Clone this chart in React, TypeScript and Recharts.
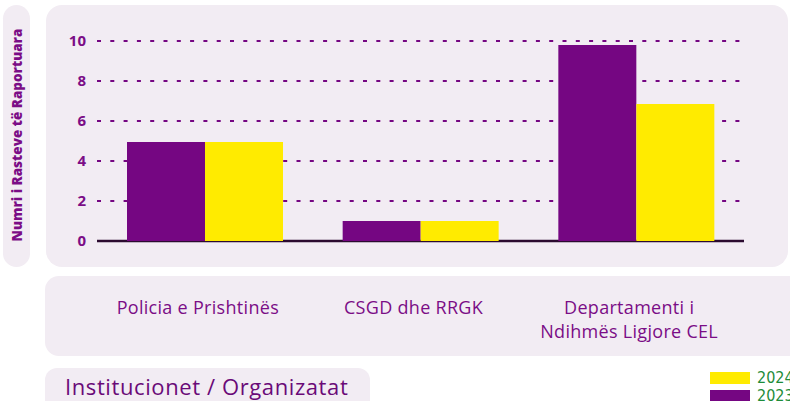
import { BarChart, Bar, XAxis, YAxis, CartesianGrid } from 'recharts';

const categories = ['Policia e Prishtinës', 'CSGD dhe RRGK', 'Departamenti i Ndihmës Ligjore CEL'];
const tickLines = [['Policia e Prishtinës'], ['CSGD dhe RRGK'], ['Departamenti i', 'Ndihmës Ligjore CEL']];
const values2023 = [4.95, 1, 9.8];
const values2024 = [4.95, 1, 6.85];
const yTicks = [0, 2, 4, 6, 8, 10];

const data = categories.map((name, i) => ({ name, y2023: values2023[i], y2024: values2024[i] }));

const PURPLE = '#750682';
const YELLOW = '#ffeb00';
const PANEL = '#f2ecf3';
const TEXT = '#7b0d86';

const legendItems = [
  { label: '2024', color: YELLOW },
  { label: '2023', color: PURPLE },
];

function CategoryTick({ x, y, index }: any) {
  const lines = tickLines[index] ?? [];
  return (
    <text x={x - 7} y={y + 65} textAnchor="middle" fill={TEXT}
      style={{ fontFamily: '"Open Sans", sans-serif', fontSize: 18, letterSpacing: 0.3 }}>
      {lines.map((l, i) => (
        <tspan key={i} x={x - 7} dy={i === 0 ? 0 : 24}>{l}</tspan>
      ))}
    </text>
  );
}

export default function App() {
  return (
    <div style={{ position: 'fixed', left: 0, top: 0, width: 790, height: 401, overflow: 'hidden', background: '#fff' }}>
      {/* panels */}
      <div style={{ position: 'absolute', left: 3, top: 5, width: 27, height: 262, borderRadius: 14, background: PANEL }} />
      <div style={{ position: 'absolute', left: 46, top: 5, width: 742, height: 262, borderRadius: 16, background: PANEL }} />
      <div style={{ position: 'absolute', left: 45, top: 276, width: 760, height: 80, borderRadius: 14, background: PANEL }} />
      <div style={{ position: 'absolute', left: 45, top: 368, width: 325, height: 50, borderRadius: 12, background: PANEL }} />
      <div style={{ position: 'absolute', left: 17, top: 135, transform: 'translate(-50%, -50%) rotate(-90deg)',
        whiteSpace: 'nowrap', color: TEXT, fontWeight: 800, fontSize: 13.5, fontFamily: '"Open Sans", sans-serif' }}>
        Numri i Rasteve të Raportuara
      </div>
      <div style={{ position: 'absolute', left: 65, top: 371, color: '#6a0a78', fontWeight: 500, fontSize: 22,
        letterSpacing: 0.6, fontFamily: '"Open Sans", sans-serif', whiteSpace: 'nowrap', lineHeight: '30px' }}>
        Institucionet / Organizatat
      </div>
      {/* legend */}
      <div style={{ position: 'absolute', left: 710, top: 372, display: 'flex', flexDirection: 'column', gap: 6 }}>
        {legendItems.map((p) => (
          <div key={p.label} style={{ display: 'flex', alignItems: 'center', height: 12, whiteSpace: 'nowrap' }}>
            <span style={{ width: 40, height: 12, background: p.color, display: 'inline-block' }} />
            <span style={{ marginLeft: 7, color: '#1e8c3a', fontSize: 16, lineHeight: '12px',
              fontFamily: '"Liberation Sans Narrow", "DejaVu Sans Condensed", sans-serif' }}>{p.label}</span>
          </div>
        ))}
      </div>
      <div style={{ position: 'absolute', left: 0, top: 0 }}>
        <BarChart width={790} height={401} data={data} barGap={0}
          margin={{ top: 41, right: 46, left: 57, bottom: 159 }}>
          <CartesianGrid vertical={false} stroke={PURPLE} strokeWidth={2} strokeDasharray="4 9.3" />
          <XAxis dataKey="name" height={1} tickLine={false} interval={0} zIndex={250}
            axisLine={{ stroke: '#2c0b30', strokeWidth: 2.5 }} tick={<CategoryTick />} />
          <YAxis width={40} domain={[0, 10]} ticks={yTicks} axisLine={false} tickLine={false} tickMargin={5}
            tick={{ fill: TEXT, fontSize: 15, fontWeight: 700, fontFamily: '"Open Sans", sans-serif' }} />
          <Bar dataKey="y2023" name="2023" fill={PURPLE} barSize={78} isAnimationActive={false} />
          <Bar dataKey="y2024" name="2024" fill={YELLOW} barSize={78} isAnimationActive={false} />
        </BarChart>
      </div>
    </div>
  );
}
